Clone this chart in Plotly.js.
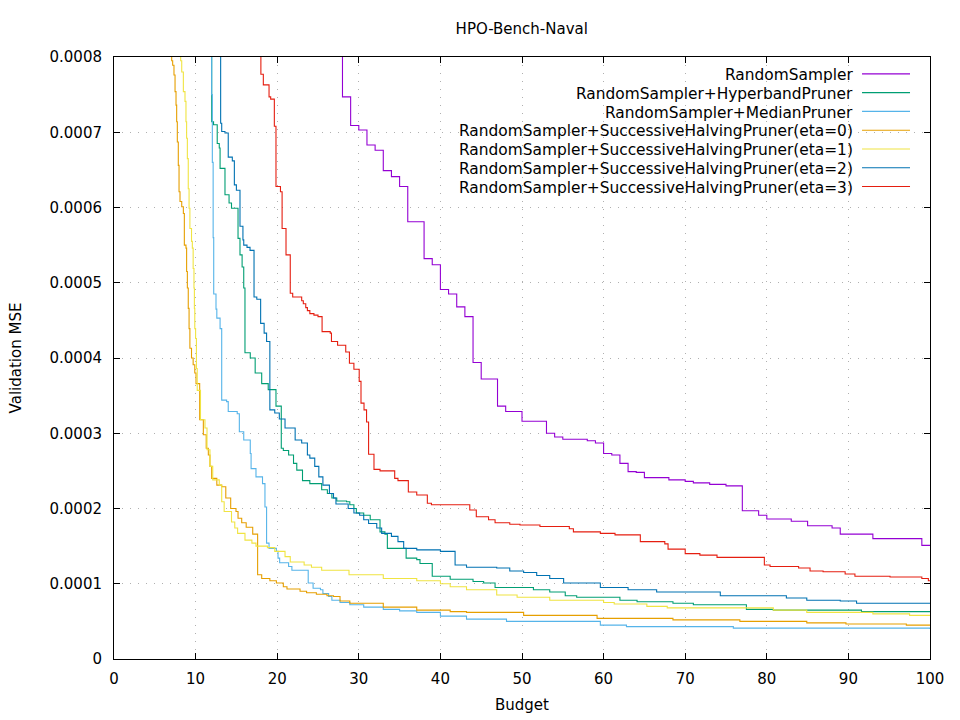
<!DOCTYPE html>
<html>
<head>
<meta charset="utf-8">
<script src="https://cdn.plot.ly/plotly-3.0.1.min.js"></script>
<style>
  html, body { margin: 0; padding: 0; background: #fff; }
  #chart { width: 960px; height: 720px; }
</style>
</head>
<body>
<div id="chart"></div>
<script>
// Best-so-far validation MSE per budget (step curves).
const randomX = [27, 28, 29, 30, 31, 32, 33, 34, 35, 36, 38, 39, 40, 41, 42, 43, 44, 45, 47, 48, 50, 53, 54, 55, 58, 59, 60, 61, 62, 63, 64, 65, 68, 70, 71, 73, 75, 77, 79, 80, 83, 85, 88, 89, 93, 99, 100];
const randomY = [9.5e-4, 7.47e-4, 7.09e-4, 7.03e-4, 6.83e-4, 6.76e-4, 6.49e-4, 6.41e-4, 6.28e-4, 5.81e-4, 5.32e-4, 5.24e-4, 4.91e-4, 4.85e-4, 4.68e-4, 4.55e-4, 3.94e-4, 3.72e-4, 3.36e-4, 3.29e-4, 3.16e-4, 3.00e-4, 2.95e-4, 2.92e-4, 2.90e-4, 2.87e-4, 2.73e-4, 2.71e-4, 2.60e-4, 2.49e-4, 2.48e-4, 2.41e-4, 2.38e-4, 2.36e-4, 2.34e-4, 2.32e-4, 2.30e-4, 1.97e-4, 1.91e-4, 1.86e-4, 1.83e-4, 1.77e-4, 1.74e-4, 1.66e-4, 1.60e-4, 1.51e-4, 1.51e-4];

const hyperbandX = [11.8, 11.97, 12.2, 12.65, 12.9, 13.0, 13.6, 14.1, 14.4, 15.2, 15.44, 15.7, 15.9, 16.05, 16.7, 17.3, 18.1, 18.9, 19.85, 20.5, 20.75, 21.4, 22.0, 22.4, 23.1, 24.0, 25.45, 26.15, 26.7, 27.3, 28.5, 28.9, 29.4, 29.7, 30.6, 31.4, 32.6, 33.2, 33.5, 35.8, 37.1, 37.5, 39.0, 41.2, 44.0, 45.3, 46.7, 51.4, 53.4, 55.3, 56.7, 62.0, 64.1, 68.5, 71.0, 77.5, 80.8, 91.6, 100];
const hyperbandY = [9e-4, 7.14e-4, 7.10e-4, 6.85e-4, 6.79e-4, 6.52e-4, 6.17e-4, 6.06e-4, 5.99e-4, 5.59e-4, 5.37e-4, 5.21e-4, 4.93e-4, 4.07e-4, 4.00e-4, 3.80e-4, 3.66e-4, 3.58e-4, 3.36e-4, 2.80e-4, 2.77e-4, 2.71e-4, 2.60e-4, 2.51e-4, 2.37e-4, 2.33e-4, 2.25e-4, 2.20e-4, 2.14e-4, 2.10e-4, 2.09e-4, 2.05e-4, 2.00e-4, 1.94e-4, 1.91e-4, 1.85e-4, 1.69e-4, 1.66e-4, 1.47e-4, 1.34e-4, 1.32e-4, 1.27e-4, 1.10e-4, 1.06e-4, 1.03e-4, 1.01e-4, 0.95e-4, 0.92e-4, 0.89e-4, 0.84e-4, 0.82e-4, 0.78e-4, 0.76e-4, 0.74e-4, 0.72e-4, 0.66e-4, 0.65e-4, 0.63e-4, 0.63e-4];

const medianX = [11.8, 11.97, 12.05, 12.15, 12.22, 12.5, 12.6, 13.0, 13.2, 13.8, 14.0, 15.1, 15.36, 15.9, 16.7, 16.8, 17.4, 18.2, 18.5, 18.7, 19.0, 19.9, 20.1, 20.3, 21.4, 21.8, 23.8, 24.4, 25.3, 25.6, 26.3, 26.7, 27.7, 28.9, 30.6, 33.0, 35.0, 37.1, 40.0, 43.2, 48.1, 59.6, 62.8, 75.9, 100];
const medianY = [9e-4, 7.5e-4, 6.6e-4, 5.6e-4, 4.85e-4, 4.65e-4, 4.53e-4, 4.39e-4, 3.44e-4, 3.42e-4, 3.29e-4, 3.26e-4, 3.02e-4, 2.91e-4, 2.73e-4, 2.53e-4, 2.42e-4, 2.33e-4, 2.02e-4, 1.54e-4, 1.47e-4, 1.43e-4, 1.34e-4, 1.28e-4, 1.23e-4, 1.18e-4, 1.01e-4, 0.94e-4, 0.92e-4, 0.87e-4, 0.83e-4, 0.78e-4, 0.75e-4, 0.72e-4, 0.69e-4, 0.66e-4, 0.64e-4, 0.62e-4, 0.57e-4, 0.53e-4, 0.50e-4, 0.45e-4, 0.43e-4, 0.41e-4, 0.40e-4];

const sha0X = [6.9, 7.07, 7.19, 7.35, 7.48, 7.6, 7.68, 7.76, 7.88, 7.97, 8.09, 8.3, 8.5, 8.62, 8.82, 8.9, 8.99, 9.1, 9.2, 9.3, 9.5, 9.7, 9.9, 10.05, 10.5, 10.95, 11.3, 11.56, 11.76, 11.97, 12.6, 13.2, 13.7, 14.3, 14.95, 15.2, 15.65, 16.2, 17.0, 17.6, 18.1, 19.1, 19.9, 20.75, 21.2, 22.8, 23.6, 24.8, 26.1, 26.9, 27.7, 28.9, 33.0, 37.1, 41.2, 43.2, 50.2, 59.2, 68.5, 76.7, 84.9, 89.7, 97.1, 100];
const sha0Y = [9e-4, 7.95e-4, 7.89e-4, 7.76e-4, 7.54e-4, 7.36e-4, 7.14e-4, 6.87e-4, 6.56e-4, 6.21e-4, 6.08e-4, 6.01e-4, 5.92e-4, 5.50e-4, 5.46e-4, 5.15e-4, 4.93e-4, 4.66e-4, 4.39e-4, 4.13e-4, 4.00e-4, 3.91e-4, 3.80e-4, 3.66e-4, 3.18e-4, 2.98e-4, 2.80e-4, 2.71e-4, 2.56e-4, 2.40e-4, 2.31e-4, 2.29e-4, 2.14e-4, 2.00e-4, 1.96e-4, 1.87e-4, 1.81e-4, 1.75e-4, 1.66e-4, 1.12e-4, 1.07e-4, 1.04e-4, 1.01e-4, 0.96e-4, 0.93e-4, 0.90e-4, 0.88e-4, 0.86e-4, 0.84e-4, 0.83e-4, 0.77e-4, 0.74e-4, 0.69e-4, 0.65e-4, 0.63e-4, 0.62e-4, 0.58e-4, 0.54e-4, 0.52e-4, 0.50e-4, 0.48e-4, 0.465e-4, 0.45e-4, 0.45e-4];

const sha1X = [8.0, 8.17, 8.3, 8.5, 8.7, 8.82, 8.9, 8.99, 9.1, 9.2, 9.3, 9.5, 9.6, 9.7, 9.8, 9.85, 9.9, 10.0, 10.1, 10.2, 10.6, 11.15, 11.4, 11.76, 12.1, 12.9, 13.2, 13.5, 14.4, 14.8, 15.15, 16.05, 16.9, 17.4, 18.8, 19.7, 20.96, 21.6, 23.3, 24.2, 25.45, 28.8, 33.0, 37.1, 40.0, 41.2, 43.2, 46.9, 49.4, 53.4, 60.0, 61.3, 65.3, 67.8, 80.8, 84.9, 93.0, 97.5, 100];
const sha1Y = [9e-4, 7.95e-4, 7.80e-4, 7.54e-4, 7.41e-4, 7.14e-4, 6.92e-4, 6.65e-4, 6.25e-4, 5.99e-4, 5.72e-4, 5.55e-4, 5.46e-4, 5.19e-4, 4.93e-4, 4.66e-4, 4.39e-4, 4.26e-4, 3.86e-4, 3.57e-4, 3.18e-4, 3.07e-4, 2.78e-4, 2.56e-4, 2.38e-4, 2.31e-4, 2.09e-4, 1.96e-4, 1.82e-4, 1.74e-4, 1.67e-4, 1.58e-4, 1.54e-4, 1.50e-4, 1.48e-4, 1.43e-4, 1.36e-4, 1.29e-4, 1.25e-4, 1.22e-4, 1.18e-4, 1.12e-4, 1.07e-4, 1.04e-4, 1.00e-4, 0.96e-4, 0.92e-4, 0.85e-4, 0.82e-4, 0.78e-4, 0.75e-4, 0.73e-4, 0.70e-4, 0.68e-4, 0.65e-4, 0.62e-4, 0.60e-4, 0.58e-4, 0.58e-4];

const sha2X = [12.9, 13.07, 13.2, 13.6, 14.0, 14.5, 14.75, 15.0, 15.44, 15.8, 15.9, 16.3, 16.67, 17.16, 17.5, 17.97, 18.4, 18.7, 19.1, 19.7, 20.26, 20.96, 22.2, 23.0, 23.7, 24.0, 24.6, 25.1, 25.6, 26.4, 26.9, 27.2, 28.7, 29.4, 30.1, 30.6, 31.2, 32.2, 32.8, 34.0, 34.8, 35.5, 37.1, 40.0, 41.8, 43.2, 46.9, 48.5, 50.2, 51.8, 53.4, 55.1, 59.6, 63.0, 66.5, 74.3, 82.4, 84.9, 89.0, 91.0, 100];
const sha2Y = [9e-4, 7.12e-4, 7.01e-4, 6.99e-4, 6.67e-4, 6.62e-4, 6.30e-4, 6.23e-4, 5.75e-4, 5.57e-4, 5.50e-4, 5.47e-4, 5.43e-4, 4.81e-4, 4.78e-4, 4.46e-4, 4.33e-4, 4.22e-4, 3.31e-4, 3.27e-4, 3.19e-4, 3.07e-4, 2.91e-4, 2.87e-4, 2.71e-4, 2.67e-4, 2.56e-4, 2.42e-4, 2.31e-4, 2.20e-4, 2.14e-4, 2.06e-4, 2.00e-4, 1.94e-4, 1.91e-4, 1.85e-4, 1.80e-4, 1.74e-4, 1.67e-4, 1.63e-4, 1.56e-4, 1.47e-4, 1.45e-4, 1.43e-4, 1.25e-4, 1.22e-4, 1.21e-4, 1.17e-4, 1.15e-4, 1.11e-4, 1.07e-4, 1.01e-4, 0.95e-4, 0.92e-4, 0.89e-4, 0.84e-4, 0.81e-4, 0.78e-4, 0.77e-4, 0.74e-4, 0.74e-4];

const sha3X = [17.5, 18.0, 18.3, 19.0, 19.2, 19.65, 19.85, 20.4, 20.6, 21.08, 21.6, 21.9, 23.0, 23.2, 23.5, 23.7, 24.0, 24.5, 25.0, 25.5, 26.5, 26.65, 27.4, 28.4, 28.85, 29.4, 30.05, 30.27, 30.64, 30.95, 31.2, 31.86, 32.6, 34.4, 34.8, 36.07, 37.1, 38.4, 38.9, 43.6, 44.4, 45.9, 46.7, 48.5, 49.75, 52.2, 55.8, 56.3, 59.6, 61.4, 64.5, 67.5, 67.9, 70.0, 71.8, 73.9, 79.7, 80.4, 83.9, 85.3, 86.9, 89.6, 90.8, 95.1, 99.0, 99.8, 100];
const sha3Y = [9e-4, 7.77e-4, 7.63e-4, 7.47e-4, 7.44e-4, 7.08e-4, 6.28e-4, 6.21e-4, 5.72e-4, 5.37e-4, 4.86e-4, 4.81e-4, 4.76e-4, 4.72e-4, 4.67e-4, 4.63e-4, 4.59e-4, 4.57e-4, 4.55e-4, 4.35e-4, 4.33e-4, 4.22e-4, 4.17e-4, 4.08e-4, 3.93e-4, 3.85e-4, 3.69e-4, 3.40e-4, 3.31e-4, 3.15e-4, 2.72e-4, 2.52e-4, 2.50e-4, 2.40e-4, 2.37e-4, 2.22e-4, 2.18e-4, 2.07e-4, 2.05e-4, 1.98e-4, 1.89e-4, 1.85e-4, 1.81e-4, 1.79e-4, 1.78e-4, 1.76e-4, 1.73e-4, 1.69e-4, 1.67e-4, 1.65e-4, 1.56e-4, 1.53e-4, 1.46e-4, 1.40e-4, 1.38e-4, 1.35e-4, 1.25e-4, 1.23e-4, 1.21e-4, 1.17e-4, 1.16e-4, 1.13e-4, 1.10e-4, 1.09e-4, 1.07e-4, 1.04e-4, 1.04e-4];

const seriesNames = [
  "RandomSampler",
  "RandomSampler+HyperbandPruner",
  "RandomSampler+MedianPruner",
  "RandomSampler+SuccessiveHalvingPruner(eta=0)",
  "RandomSampler+SuccessiveHalvingPruner(eta=1)",
  "RandomSampler+SuccessiveHalvingPruner(eta=2)",
  "RandomSampler+SuccessiveHalvingPruner(eta=3)",
];
const seriesX = [randomX, hyperbandX, medianX, sha0X, sha1X, sha2X, sha3X];
const seriesY = [randomY, hyperbandY, medianY, sha0Y, sha1Y, sha2Y, sha3Y];

const yTickVals = [0, 1e-4, 2e-4, 3e-4, 4e-4, 5e-4, 6e-4, 7e-4, 8e-4];
const yTickText = ["0", "0.0001", "0.0002", "0.0003", "0.0004", "0.0005", "0.0006", "0.0007", "0.0008"];

// gnuplot default line colours
const COLOURS = ["#9400d3", "#009e73", "#56b4e9", "#e69f00", "#f0e442", "#0072b2", "#e51e10"];
const FONT = "DejaVu Sans, sans-serif";

const traces = seriesNames.map((name, i) => ({
  type: "scatter",
  mode: "lines",
  name,
  x: seriesX[i],
  y: seriesY[i],
  line: { color: COLOURS[i], width: 1.1, shape: "hv" },
  showlegend: false,
  hoverinfo: "skip",
}));

// gnuplot-style key: right-aligned text, sample line to the right
const keyTop = 0.970;
const keyStep = 0.0312;
const annotations = seriesNames.map((name, i) => ({
  xref: "paper", yref: "paper",
  x: 0.9075, y: keyTop - i * keyStep,
  xanchor: "right", yanchor: "middle",
  text: name, showarrow: false,
  font: { family: FONT, size: 15.4, color: "#000" },
}));
const shapes = [{
  type: "rect", xref: "paper", yref: "paper", layer: "between",
  x0: 0.3627, x1: 1, y0: 0.7625, y1: 1,
  fillcolor: "#fff", line: { width: 0 },
}];
seriesNames.forEach((_, i) => {
  shapes.push({
    type: "line", xref: "paper", yref: "paper", layer: "above",
    x0: 0.9167, x1: 0.9755,
    y0: keyTop - i * keyStep + 0.002, y1: keyTop - i * keyStep + 0.002,
    line: { color: COLOURS[i], width: 1.1 },
  });
});

const axisCommon = {
  showline: true, linecolor: "#000", linewidth: 1, mirror: "ticks",
  ticks: "inside", ticklen: 6, tickcolor: "#000", tickwidth: 1,
  showgrid: true, gridcolor: "#b0b0b0", griddash: "1px,7px", gridwidth: 1,
  zeroline: false, fixedrange: true,
  tickfont: { family: FONT, size: 15, color: "#000" },
};

const layout = {
  width: 960, height: 720,
  margin: { l: 114, r: 30, t: 57, b: 61 },
  paper_bgcolor: "#fff", plot_bgcolor: "#fff",
  font: { family: FONT, size: 15, color: "#000" },
  title: {
    text: "HPO-Bench-Naval",
    x: 0.5435, xanchor: "center",
    y: 0.96, yref: "container", yanchor: "middle",
    font: { family: FONT, size: 15, color: "#000" },
  },
  xaxis: Object.assign({}, axisCommon, {
    range: [0, 100], dtick: 10, tick0: 0,
    ticklabelstandoff: 6,
    title: { text: "Budget", standoff: 12, font: { family: FONT, size: 15 } },
  }),
  yaxis: Object.assign({}, axisCommon, {
    range: [0, 8e-4],
    tickmode: "array", tickvals: yTickVals, ticktext: yTickText,
    ticklabelstandoff: 8,
    title: { text: "Validation MSE", standoff: 24, font: { family: FONT, size: 15 } },
  }),
  annotations,
  shapes,
  showlegend: false,
};

Plotly.newPlot("chart", traces, layout, { displayModeBar: false, staticPlot: true });
</script>
</body>
</html>
